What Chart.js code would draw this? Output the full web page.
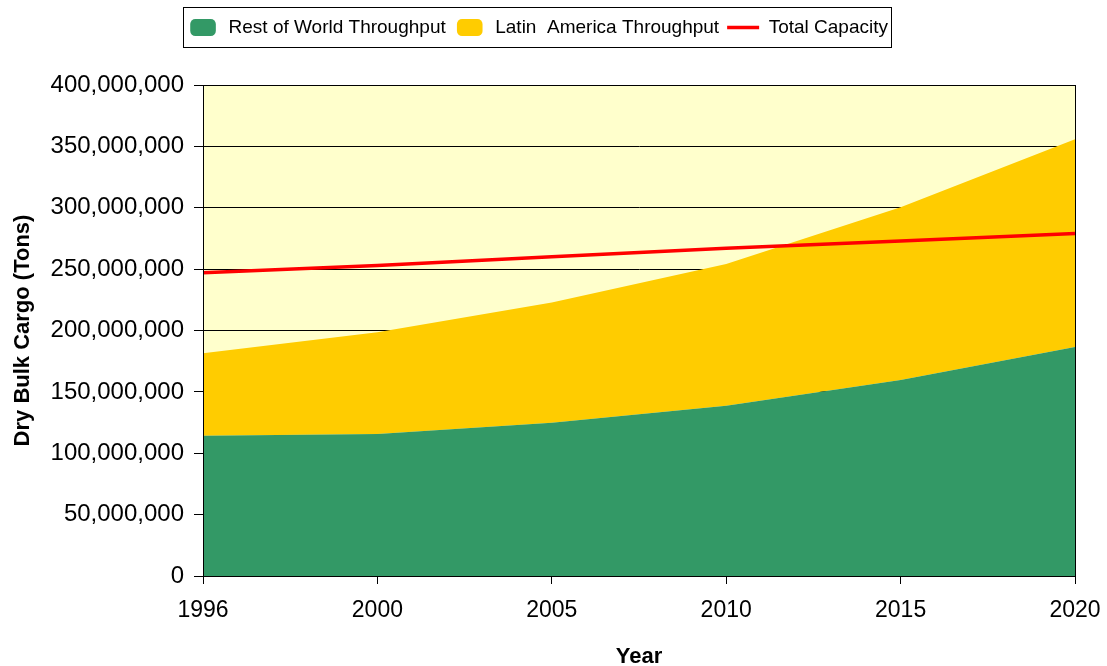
<!DOCTYPE html>
<html>
<head>
<meta charset="utf-8">
<script src="https://cdn.jsdelivr.net/npm/chart.js@4.4.1/dist/chart.umd.min.js"></script>
<style>
  html, body { margin: 0; padding: 0; background: #fff; }
  #wrap { width: 1107px; height: 666px; }
</style>
</head>
<body>
<div id="wrap"><canvas id="myChart" width="1107" height="666"></canvas></div>
<script>
var years = ['1996', '2000', '2005', '2010', '2015', '2020'];
var restOfWorld = [114300000, 115700000, 124800000, 138700000, 159700000, 186600000];
var latinAmerica = [67100000, 82800000, 98000000, 115500000, 140700000, 169200000];
var totalCapacity = [247000000, 253000000, 260000000, 267000000, 273000000, 279000000];

var plotBg = '#FFFFCC';

// plot background, outer frame and a box round the legend items
var frame = {
    id: 'frame',
    beforeInit: function(chart) {
        var fit = chart.legend.fit;
        chart.legend.fit = function() {
            fit.bind(chart.legend)();
            this.height = 75;
        };
    },
    beforeDraw: function(chart) {
        var a = chart.chartArea, ctx = chart.ctx;
        ctx.save();
        ctx.fillStyle = plotBg;
        ctx.fillRect(a.left, a.top, a.right - a.left, a.bottom - a.top);
        ctx.restore();
    },
    afterDraw: function(chart) {
        var a = chart.chartArea, ctx = chart.ctx;
        ctx.save();
        ctx.strokeStyle = '#000';
        ctx.lineWidth = 1;
        ctx.strokeRect(Math.round(a.left) + 0.5, Math.round(a.top) + 0.5,
            Math.round(a.right - a.left), Math.round(a.bottom - a.top));
        var boxes = chart.legend.legendHitBoxes;
        if (boxes && boxes.length) {
            var x0 = boxes[0].left - 4;
            var last = boxes[boxes.length - 1];
            var x1 = last.left + last.width + 3;
            ctx.strokeRect(Math.round(x0) + 0.5, 7.5, Math.round(x1 - x0), 40);
        }
        ctx.restore();
    }
};

window.onload = function() {
    var ctx = document.getElementById('myChart').getContext('2d');
    window.myChart = new Chart(ctx, {
        type: 'line',
        data: {
            labels: years,
            datasets: [
                {
                    label: 'Rest of World Throughput',
                    data: restOfWorld,
                    backgroundColor: '#339966',
                    borderColor: '#339966',
                    borderWidth: 0,
                    fill: 'origin',
                    pointRadius: 0,
                    pointStyle: 'rectRounded',
                    stack: 'throughput',
                    order: 1,
                    tension: 0
                },
                {
                    label: 'Latin  America Throughput',
                    data: latinAmerica,
                    backgroundColor: '#FFCC00',
                    borderColor: '#FFCC00',
                    borderWidth: 0,
                    fill: '-1',
                    pointRadius: 0,
                    pointStyle: 'rectRounded',
                    stack: 'throughput',
                    order: 1,
                    tension: 0
                },
                {
                    label: 'Total Capacity',
                    data: totalCapacity,
                    borderColor: '#FF0000',
                    backgroundColor: '#FF0000',
                    borderWidth: 3.5,
                    fill: false,
                    pointRadius: 0,
                    pointStyle: 'line',
                    stack: 'capacity',
                    order: 0,
                    tension: 0
                }
            ]
        },
        options: {
            responsive: false,
            animation: false,
            layout: { padding: { left: 0, right: 32, top: 10, bottom: 0 } },
            plugins: {
                legend: {
                    display: true,
                    position: 'top',
                    labels: {
                        usePointStyle: true,
                        pointStyleWidth: 32,
                        boxHeight: 14,
                        padding: 8,
                        color: '#000',
                        font: { family: 'Liberation Sans', size: 19 },
                        sort: function(a, b) { return a.datasetIndex - b.datasetIndex; }
                    }
                },
                tooltip: { enabled: false }
            },
            scales: {
                x: {
                    type: 'category',
                    offset: false,
                    afterFit: function(scale) {
                        scale.height = 90;
                        scale.paddingLeft = 0;
                        scale.paddingRight = 0;
                    },
                    grid: {
                        drawOnChartArea: false,
                        drawTicks: true,
                        tickLength: 8,
                        color: '#000'
                    },
                    border: { color: '#000', width: 1 },
                    ticks: {
                        color: '#000',
                        padding: 13,
                        maxRotation: 0,
                        font: { family: 'Liberation Sans', size: 23 }
                    },
                    title: {
                        display: true,
                        text: 'Year',
                        color: '#000',
                        padding: { top: 0, bottom: -2 },
                        font: { family: 'Liberation Sans', size: 22, weight: 'bold', lineHeight: 1 }
                    }
                },
                y: {
                    stacked: true,
                    min: 0,
                    max: 400000000,
                    afterFit: function(scale) { scale.width = 203; },
                    grid: {
                        color: '#000',
                        lineWidth: 1,
                        drawTicks: true,
                        tickLength: 9
                    },
                    border: { color: '#000', width: 1 },
                    ticks: {
                        stepSize: 50000000,
                        color: '#000',
                        padding: 10,
                        font: { family: 'Liberation Sans', size: 24 },
                        callback: function(v) { return v.toLocaleString('en-US'); }
                    },
                    title: {
                        display: true,
                        text: 'Dry Bulk Cargo (Tons)',
                        color: '#000',
                        padding: { top: 10, bottom: 4 },
                        font: { family: 'Liberation Sans', size: 22, weight: 'bold' }
                    }
                }
            }
        },
        plugins: [frame]
    });
};
</script>
</body>
</html>
